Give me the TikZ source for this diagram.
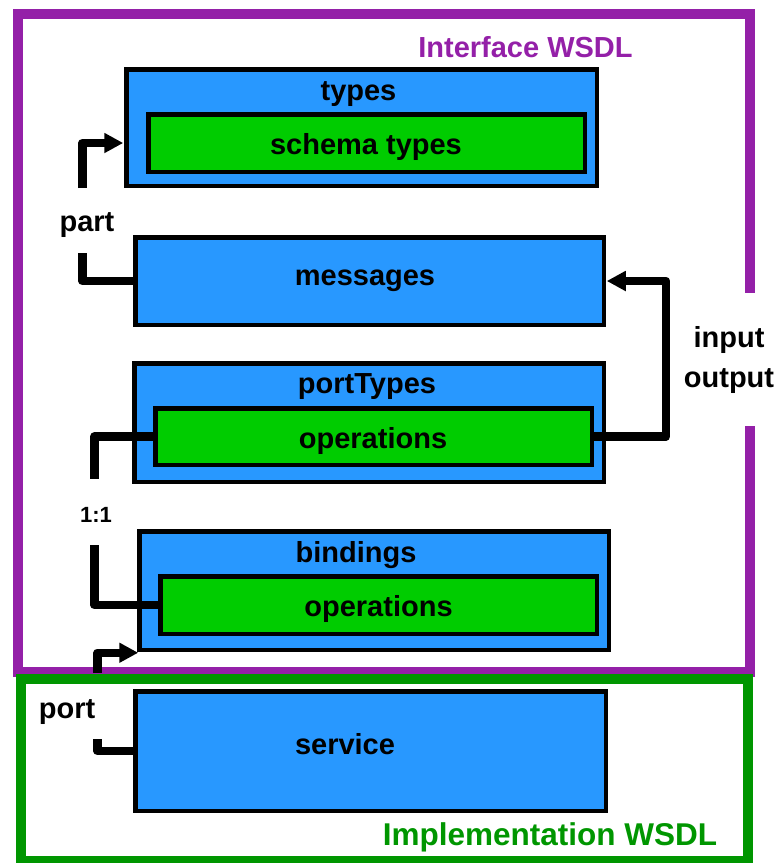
\documentclass[tikz,border=0pt]{standalone}
\usepackage{fontspec}
\setmainfont{Liberation Sans}
\usetikzlibrary{arrows.meta,calc}

\definecolor{boxblue}{RGB}{40,152,255}
\definecolor{opgreen}{RGB}{0,204,0}
\definecolor{ifpurple}{RGB}{148,32,168}
\definecolor{impgreen}{RGB}{0,150,0}

\begin{document}
\begin{tikzpicture}[x=1pt,y=-1pt,
  font=\fontsize{29}{34}\selectfont\bfseries,
  elem/.style={draw=black, line width=4.5pt, fill=boxblue, inner sep=0pt, outer sep=0pt},
  opbox/.style={draw=black, line width=4.5pt, fill=opgreen, inner sep=0pt, outer sep=0pt},
  txt/.style={anchor=base, inner sep=0pt},
  conn/.style={draw=black, line width=8.5pt, line join=round},
  tip/.style={-{Triangle[length=19pt,width=19pt]}},
  frame/.style={line width=10pt}]

\useasboundingbox (0,0) rectangle (776,863);

% WSDL frames
\draw[frame, ifpurple] (18,14) rectangle (749.5,672);
\draw[frame, impgreen] (21,679) rectangle (747.5,861);
\node[txt, text=ifpurple] (iftitle) at (525.5,57.3) {Interface WSDL};
\node[txt, text=impgreen, font=\fontsize{31.5}{36}\selectfont\bfseries] (imptitle) at (550,845) {Implementation WSDL};

% label breaking the right edge of the interface frame
\node[fill=white, align=center, inner sep=0pt, minimum width=96, minimum height=133,
      font=\fontsize{29}{40}\selectfont\bfseries] (io) at (729,359.5) {input\\output};

% element boxes
\node[elem, minimum width=470.5, minimum height=116.5] (types) at (361.5,127.5) {};
\node[opbox, minimum width=436.5, minimum height=57.5] (schema) at (366.5,143) {};
\node[elem, minimum width=468.5, minimum height=87.5] (messages) at (369.5,281) {};
\node[elem, minimum width=469.5, minimum height=118.5] (porttypes) at (369,422.5) {};
\node[opbox, minimum width=436.5, minimum height=56.5] (ops1) at (373.5,436.5) {};
\node[elem, minimum width=469.5, minimum height=118.5] (bindings) at (374,590.5) {};
\node[opbox, minimum width=436.5, minimum height=57.5] (ops2) at (378.5,605) {};
\node[elem, minimum width=470.5, minimum height=119.5] (service) at (370.5,751) {};

% box titles
\node[txt] (typesT) at (358.5,100) {types};
\node[txt] (schemaT) at (366,154.5) {schema types};
\node[txt] (messagesT) at (365,285.7) {messages};
\node[txt] (porttypesT) at (367,393) {portTypes};
\node[txt] (ops1T) at (373,448) {operations};
\node[txt] (bindingsT) at (356,562) {bindings};
\node[txt] (ops2T) at (378.5,616) {operations};
\node[txt] (serviceT) at (345,754) {service};

% connector labels
\node[txt] (partL) at (87,231) {part};
\node[txt, font=\fontsize{22}{26}\selectfont\bfseries] (oneL) at (96,522) {1:1};
\node[txt] (portL) at (67,718) {port};

% bend points around the labels
\coordinate (partlo) at (82.5,253);
\coordinate (parthi) at (82.5,188);
\coordinate (onehi) at (94.5,479);
\coordinate (onelo) at (94.5,545);
\coordinate (portlo) at (97.5,739);
\coordinate (porthi) at (97.5,673);
\coordinate (iox) at (666,281);

% messages -> types (part)
\draw[conn] (messages.west) -| (partlo);
\draw[conn, tip] (parthi) |- ([xshift=-3pt]types.west |- schema.west);

% portType operations -> messages (input / output)
\draw[conn, tip] (ops1.east) -| (iox) -- ([xshift=3pt]messages.east);

% portType operations <-> binding operations (1:1)
\draw[conn] (ops1.west) -| (onehi);
\draw[conn] (onelo) |- (ops2.west);

% service -> bindings (port)
\draw[conn] (service.west) -| (portlo);
\draw[conn, tip] (porthi) |- ([shift={(-1,3)}]bindings.south west);

\end{tikzpicture}
\end{document}
